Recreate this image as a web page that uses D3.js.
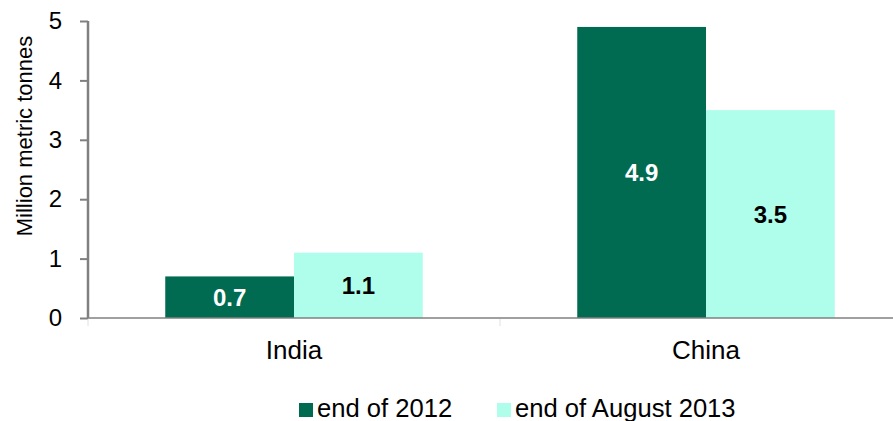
<!DOCTYPE html>
<html>
<head>
<meta charset="utf-8">
<script src="https://cdn.jsdelivr.net/npm/d3@7"></script>
<style>
  html, body { margin: 0; padding: 0; background: #fff; }
  svg { display: block; font-family: "Liberation Sans", Arial, sans-serif; }
</style>
</head>
<body>
<svg id="chart" width="893" height="421"></svg>
<script>
// Stockpiles by country
const categories = ["India", "China"];
const seriesNames = ["end of 2012", "end of August 2013"];
const end2012 = [0.7, 4.9];
const endAug2013 = [1.1, 3.5];
const yTicks = [0, 1, 2, 3, 4, 5];
const colors = ["#006B51", "#AFFEEC"];
const labelColors = ["#ffffff", "#000000"];

const svg = d3.select("#chart");
const plotLeft = 88, plotTop = 21, plotBottom = 318, plotRight = 912;
const font = "Liberation Sans, Arial, sans-serif";

const x = d3.scaleBand().domain(categories).range([plotLeft, plotRight]).paddingInner(0).paddingOuter(0);
const inner = d3.scaleBand().domain(seriesNames).range([0, x.bandwidth()]).paddingInner(0).paddingOuter(0.6);
const y = d3.scaleLinear().domain([0, 5]).range([plotBottom, plotTop]);

const seriesValues = [end2012, endAug2013];
const rows = [];
categories.forEach((c, i) => {
  seriesNames.forEach((s, j) => rows.push({ cat: c, series: s, j, value: seriesValues[j][i] }));
});

// Bars
svg.append("g").selectAll("rect").data(rows).join("rect")
  .attr("x", d => x(d.cat) + inner(d.series))
  .attr("y", d => y(d.value))
  .attr("width", inner.bandwidth())
  .attr("height", d => y(0) - y(d.value))
  .attr("fill", d => colors[d.j]);

// Value labels
svg.append("g").selectAll("text").data(rows).join("text")
  .attr("x", d => x(d.cat) + inner(d.series) + inner.bandwidth() / 2)
  .attr("y", d => (y(d.value) + y(0)) / 2)
  .attr("dy", "0.36em")
  .attr("text-anchor", "middle")
  .attr("font-family", font)
  .attr("font-size", 24)
  .attr("font-weight", "bold")
  .attr("fill", d => labelColors[d.j])
  .text(d => d.value.toFixed(1));

// Y axis
const yAxis = svg.append("g").attr("transform", `translate(${plotLeft},0)`)
  .call(d3.axisLeft(y).tickValues(yTicks).tickSize(8).tickPadding(18).tickFormat(d3.format("d")));
yAxis.select(".domain").attr("stroke", "#808080").attr("stroke-width", 2.5)
  .attr("d", `M0,${y(5)}V${y(0)}`);
yAxis.selectAll(".tick line").attr("stroke", "#808080").attr("stroke-width", 2);
yAxis.selectAll(".tick text").attr("font-size", 24).attr("fill", "#000")
  .attr("font-family", font);

// X axis
const xAxis = svg.append("g").attr("transform", `translate(0,${plotBottom})`)
  .call(d3.axisBottom(x).tickSize(0).tickPadding(23));
xAxis.select(".domain").attr("stroke", "#808080").attr("stroke-width", 1.5)
  .attr("d", `M${plotLeft},0H${plotRight}`);
xAxis.selectAll(".tick text").attr("font-size", 26).attr("fill", "#000")
  .attr("font-family", font);
// Category separators
svg.append("g").selectAll("line").data(categories).join("line")
  .attr("x1", d => x(d)).attr("x2", d => x(d))
  .attr("y1", plotBottom + 1).attr("y2", plotBottom + 8)
  .attr("stroke", "#e0e0e0").attr("stroke-width", 1);

// Y axis title
svg.append("text")
  .attr("transform", `translate(32,136) rotate(-90)`)
  .attr("text-anchor", "middle")
  .attr("font-family", font)
  .attr("font-size", 22)
  .attr("fill", "#000")
  .text("Million metric tonnes");

// Legend
const legendX = [299, 497];
const lg = svg.append("g").selectAll("g").data(seriesNames).join("g")
  .attr("transform", (d, i) => `translate(${legendX[i]},403)`);
lg.append("rect").attr("width", 14).attr("height", 14).attr("fill", (d, i) => colors[i]);
lg.append("text").attr("x", 18).attr("y", 14)
  .attr("font-family", font)
  .attr("font-size", 25.6).attr("fill", "#000").text(d => d);
</script>
</body>
</html>
